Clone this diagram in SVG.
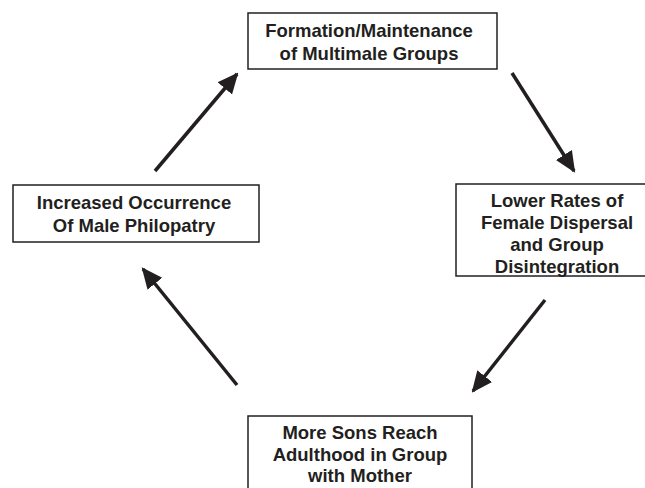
<svg xmlns="http://www.w3.org/2000/svg" width="645" height="488" viewBox="0 0 645 488">
<style>
.box{fill:#fff;stroke:#231f20;stroke-width:1.5}
.t{font-family:"Liberation Sans",Arial,sans-serif;font-weight:bold;font-size:18.5px;fill:#231f20;text-anchor:middle}
.c{stroke:#231f20;stroke-width:3.5;fill:none;marker-end:url(#ah)}
</style>
<defs>
<marker id="ah" viewBox="0 0 10 10" refX="9" refY="5" markerWidth="6" markerHeight="6" markerUnits="strokeWidth" orient="auto">
<path d="M0,0.5 L10,5 L0,9.5 z" fill="#231f20"/>
</marker>
</defs>
<rect width="645" height="488" fill="#fff"/>
<g id="top">
<rect class="box" x="248" y="13" width="249" height="56"/>
<text class="t" x="369" y="37">Formation/Maintenance</text>
<text class="t" x="369" y="60">of Multimale Groups</text>
</g>
<g id="right">
<rect class="box" x="456" y="184" width="200" height="92"/>
<text class="t" x="557" y="207">Lower Rates of</text>
<text class="t" x="557" y="229">Female Dispersal</text>
<text class="t" x="557" y="251">and Group</text>
<text class="t" x="557" y="273">Disintegration</text>
</g>
<g id="bottom">
<rect class="box" x="248" y="416" width="224" height="80"/>
<text class="t" x="360" y="439">More Sons Reach</text>
<text class="t" x="360" y="461">Adulthood in Group</text>
<text class="t" x="360" y="482">with Mother</text>
</g>
<g id="left">
<rect class="box" x="13" y="185" width="246" height="57"/>
<text class="t" x="134" y="209">Increased Occurrence</text>
<text class="t" x="134" y="232">Of Male Philopatry</text>
</g>
<g id="connectors">
<line class="c" x1="155" y1="171" x2="237" y2="74"/>
<line class="c" x1="512" y1="73" x2="574" y2="171"/>
<line class="c" x1="545" y1="300" x2="473" y2="391"/>
<line class="c" x1="237" y1="385" x2="143" y2="269"/>
</g>
</svg>
